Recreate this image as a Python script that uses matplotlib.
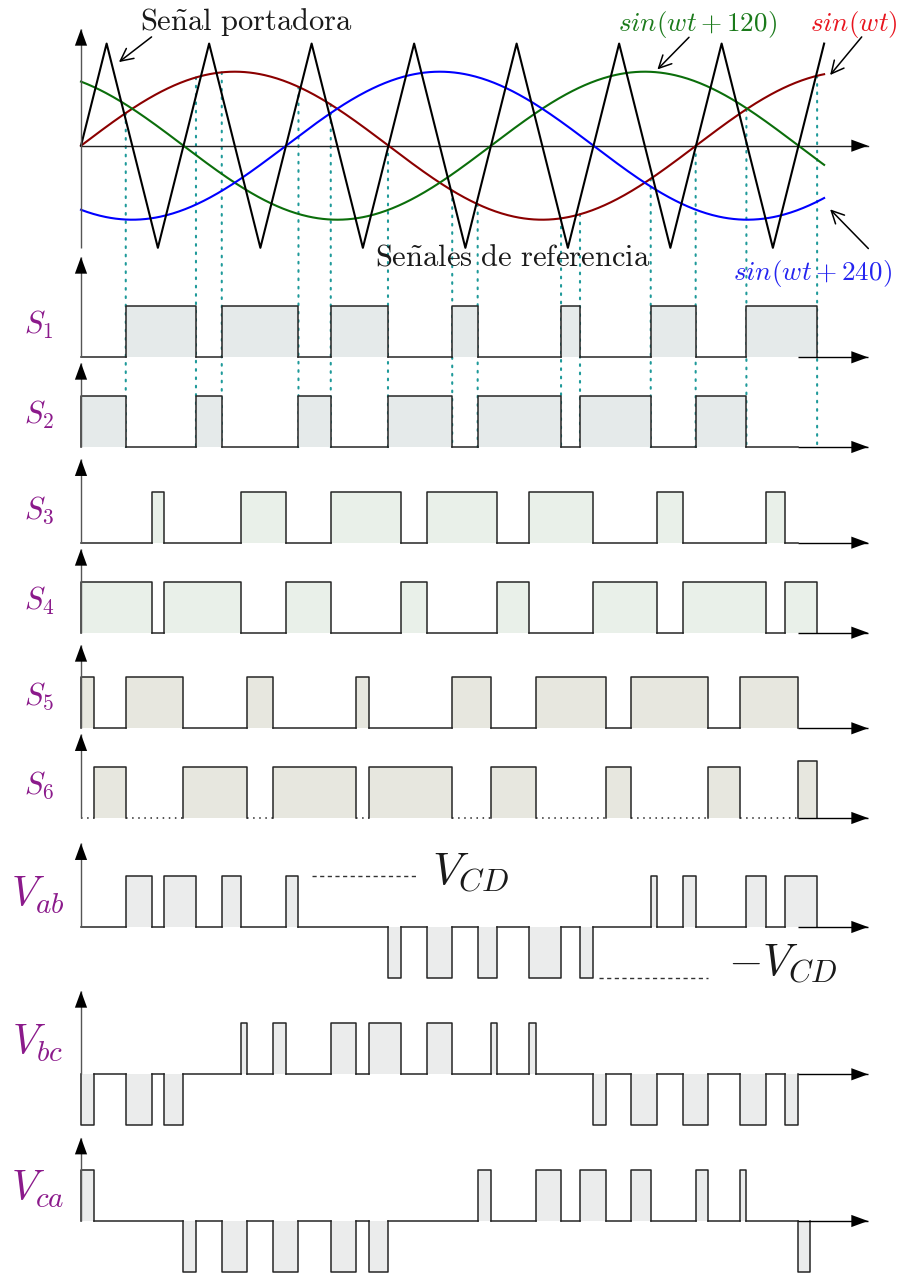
import matplotlib
matplotlib.use('Agg')
import matplotlib.pyplot as plt
from matplotlib.patches import ConnectionPatch
import numpy as np

plt.rcParams['mathtext.fontset'] = 'cm'

# ---- data, x in degrees of wt ----
wt_end = 435
carrier_x = [0, 15, 45, 75, 105, 135, 165, 195, 225, 255, 285, 315, 345, 375, 405, 435]
carrier_y = [0, 1.38, -1.38, 1.38, -1.38, 1.38, -1.38, 1.38, -1.38,
             1.38, -1.38, 1.38, -1.38, 1.38, -1.38, 1.38]
ref_phases = [0, 120, 240]
ref_colors = ['#8b0000', '#0b6e0b', '#0000ff']

# (start, end, level)
s1 = [(26.2, 67.3, 1), (82.4, 127.3, 1), (146.2, 179.7, 1), (217.3, 232.2, 1),
      (281.0, 292.1, 1), (333.5, 359.8, 1), (389.5, 430.9, 1)]
s2 = [(0, 26.2, 1), (67.3, 82.4, 1), (127.3, 146.2, 1), (179.7, 217.3, 1),
      (232.2, 281.0, 1), (292.1, 333.5, 1), (359.8, 389.5, 1)]
s3 = [(41.4, 48.8, 1), (93.8, 119.8, 1), (146.2, 187.3, 1), (202.4, 243.5, 1),
      (262.3, 299.9, 1), (337.3, 352.2, 1), (401.0, 412.1, 1)]
s4 = [(0, 41.4, 1), (48.8, 93.8, 1), (119.8, 146.2, 1), (187.3, 202.4, 1),
      (243.5, 262.3, 1), (299.9, 337.3, 1), (352.2, 401.0, 1), (412.1, 430.9, 1)]
s5 = [(0, 7.4, 1), (26.2, 59.9, 1), (97.4, 112.4, 1), (161.0, 168.6, 1),
      (217.3, 239.8, 1), (266.2, 307.2, 1), (322.1, 367.2, 1), (386.0, 419.6, 1)]
s6 = [(7.4, 26.2, 1), (59.9, 97.4, 1), (112.4, 161.0, 1), (168.6, 217.3, 1),
      (239.8, 266.2, 1), (307.2, 322.1, 1), (367.2, 386.0, 1), (419.6, 430.9, 1.12)]

vab = [(26.2, 41.4, 1), (48.8, 67.3, 1), (82.4, 93.8, 1), (119.8, 127.3, 1),
       (179.7, 187.3, -1), (202.4, 217.3, -1), (232.2, 243.5, -1), (262.3, 281.0, -1),
       (292.1, 299.9, -1), (333.5, 337.3, 1), (352.2, 359.8, 1), (389.5, 401.0, 1),
       (412.1, 430.9, 1)]
vbc = [(0, 7.4, -1), (26.2, 41.4, -1), (48.8, 59.9, -1), (93.8, 97.4, 1),
       (112.4, 119.8, 1), (146.2, 161.0, 1), (168.6, 187.3, 1), (202.4, 217.3, 1),
       (239.8, 243.5, 1), (262.3, 266.2, 1), (299.9, 307.2, -1), (322.1, 337.3, -1),
       (352.2, 367.2, -1), (386.0, 401.0, -1), (412.1, 419.6, -1)]
vca = [(0, 7.4, 1), (59.9, 67.3, -1), (82.4, 97.4, -1), (112.4, 127.3, -1),
       (146.2, 161.0, -1), (168.6, 179.7, -1), (232.2, 239.8, 1), (266.2, 281.0, 1),
       (292.1, 307.2, 1), (322.1, 333.5, 1), (359.8, 367.2, 1), (386.0, 389.5, 1),
       (419.6, 426.9, -1)]

# ---- layout (pixels of the 900x1274 picture) ----
W, H = 900, 1274
X0 = 81
DEG_PX = 360 / 615
XTIP = (868 - X0) * DEG_PX
SIG_END = 419.6

EDGE = '#262626'
PURPLE = '#8b1a8b'
TEAL = '#1f9a9a'
HEAD = dict(arrowstyle='-|>,head_length=0.6,head_width=0.22', mutation_scale=20,
            color='black', lw=0, shrinkA=0, shrinkB=0)
THIN = dict(arrowstyle='->,head_length=0.5,head_width=0.25', mutation_scale=18,
            color='black', lw=1.1, shrinkA=0, shrinkB=0)

fig = plt.figure(figsize=(9, 12.74), dpi=100)


def panel(tip_px, zero_px, unit_px, below_px):
    top = tip_px - 4
    bottom = zero_px + below_px
    ax = fig.add_axes([0, 1 - bottom / H, 1, (bottom - top) / H])
    ax.set_xlim(-X0 * DEG_PX, (W - X0) * DEG_PX)
    ax.set_ylim(-(bottom - zero_px) / unit_px, (zero_px - top) / unit_px)
    ax.axis('off')
    ax.patch.set_visible(False)
    return ax, (zero_px - tip_px) / unit_px


def arrow(ax, start, tip, color, lw=1.0):
    ax.plot([start[0], tip[0]], [start[1], tip[1]], color=color, lw=lw,
            solid_capstyle='butt', zorder=3)
    ax.annotate('', xy=tip, xytext=start, arrowprops=HEAD, zorder=4)


def pulses(ax, data, fill, low_ls='-'):
    data = sorted(data)
    end = max(SIG_END, data[-1][1])
    prev = 0
    for a, b, h in data:
        ax.fill_between([a, b], 0, h, color=fill, lw=0, zorder=1)
        ax.plot([a, a, b, b], [0, h, h, 0], color=EDGE, lw=1.1, zorder=2)
        if a > prev:
            ax.plot([prev, a], [0, 0], color=EDGE, lw=1.1, ls=low_ls, zorder=2)
        prev = b
    if end > prev:
        ax.plot([prev, end], [0, 0], color=EDGE, lw=1.1, zorder=2)
    arrow(ax, (SIG_END, 0), (XTIP, 0), 'black')


# ---- top panel: carrier and references ----
ax0, tip0 = panel(29, 145.7, 74, 106)
wt = np.linspace(0, wt_end, 600)
for ph, c in zip(ref_phases, ref_colors):
    ax0.plot(wt, np.sin(np.radians(wt + ph)), color=c, lw=1.5, zorder=2)
ax0.plot(carrier_x, carrier_y, color='black', lw=1.5, zorder=3)
ax0.plot([0, XTIP], [0, 0], color='#222222', lw=1.0, zorder=1)
ax0.annotate('', xy=(XTIP, 0), xytext=(0, 0), arrowprops=HEAD)
arrow(ax0, (0, -1.38), (0, tip0), '#555555')

ax0.text(34.5, 1.67, r'$\mathrm{Se\tilde{n}al\ portadora}$', fontsize=22,
         ha='left', va='center', color='#1a1a1a')
ax0.annotate('', xy=(22.2, 1.13), xytext=(41.3, 1.47), arrowprops=THIN)
ax0.text(172.1, -1.50, r'$\mathrm{Se\tilde{n}ales\ de\ referencia}$', fontsize=22,
         ha='left', va='center', color='#1a1a1a')
ax0.text(360.6, 1.64, r'$sin(wt+120)$', fontsize=19.5, ha='center', va='center', color='#1b7a1b')
ax0.annotate('', xy=(337.4, 1.03), xytext=(355.9, 1.465), arrowprops=THIN)
ax0.text(452.5, 1.64, r'$sin(wt)$', fontsize=19.5, ha='center', va='center', color='#e8141e')
ax0.annotate('', xy=(438.5, 0.955), xytext=(457.0, 1.47), arrowprops=THIN)
ax0.text(428.2, -1.73, r'$sin(wt+240)$', fontsize=19.5, ha='center', va='center', color='#2424f0')
ax0.annotate('', xy=(438.5, -0.86), xytext=(460.9, -1.39), arrowprops=THIN)

# ---- switching signals ----
s_panels = [(s1, 257, 357.3, '#e5eaea', r'$S_1$'),
            (s2, 363, 447.0, '#e5eaea', r'$S_2$'),
            (s3, 459.3, 542.7, '#e9f0e9', r'$S_3$'),
            (s4, 549, 632.7, '#e9f0e9', r'$S_4$'),
            (s5, 645, 728.3, '#e7e7df', r'$S_5$'),
            (s6, 734.3, 818.0, '#e7e7df', r'$S_6$')]
s_axes = []
for i, (data, tip_px, zero_px, fill, lab) in enumerate(s_panels):
    ax, tip = panel(tip_px, zero_px, 51.2, 5)
    pulses(ax, data, fill, low_ls=(0, (1, 3)) if i == 5 else '-')
    arrow(ax, (0, 0), (0, tip), '#555555')
    ax.text(-24.6, 0.63, lab, fontsize=22, ha='center', va='center', color=PURPLE)
    s_axes.append(ax)

# dotted lines from carrier/reference crossings down to S2
edges = sorted(set([a for a, b, h in s1] + [b for a, b, h in s1]))
for e in edges:
    con = ConnectionPatch(xyA=(e, np.sin(np.radians(e))), coordsA=ax0.transData,
                          xyB=(e, 0), coordsB=s_axes[1].transData,
                          color=TEAL, lw=1.5, linestyle=(0, (0.8, 3.2)), zorder=-1)
    fig.add_artist(con)

# ---- line voltages ----
v_panels = [(vab, 843.3, 927.0, r'$V_{ab}$'),
            (vbc, 991.0, 1074.3, r'$V_{bc}$'),
            (vca, 1137.7, 1221.0, r'$V_{ca}$')]
v_axes = []
for data, tip_px, zero_px, lab in v_panels:
    ax, tip = panel(tip_px, zero_px, 51.0, 54)
    pulses(ax, data, '#ebecec')
    arrow(ax, (0, 0), (0, tip), '#555555')
    ax.text(-25.2, 0.62, lab, fontsize=30, ha='center', va='center', color=PURPLE)
    v_axes.append(ax)

vab_ax = v_axes[0]
vab_ax.plot([135.2, 197.3], [1, 1], color='#333333', lw=1.0, ls=(0, (3, 2.5)))
vab_ax.text(205.5, 1.06, r'$V_{CD}$', fontsize=33, ha='left', va='center', color='#1a1a1a')
vab_ax.plot([303.2, 367.2], [-1, -1], color='#333333', lw=1.0, ls=(0, (3, 2.5)))
vab_ax.text(378.5, -0.72, r'$-V_{CD}$', fontsize=32, ha='left', va='center', color='#1a1a1a')

plt.savefig('out.png', dpi=100)
